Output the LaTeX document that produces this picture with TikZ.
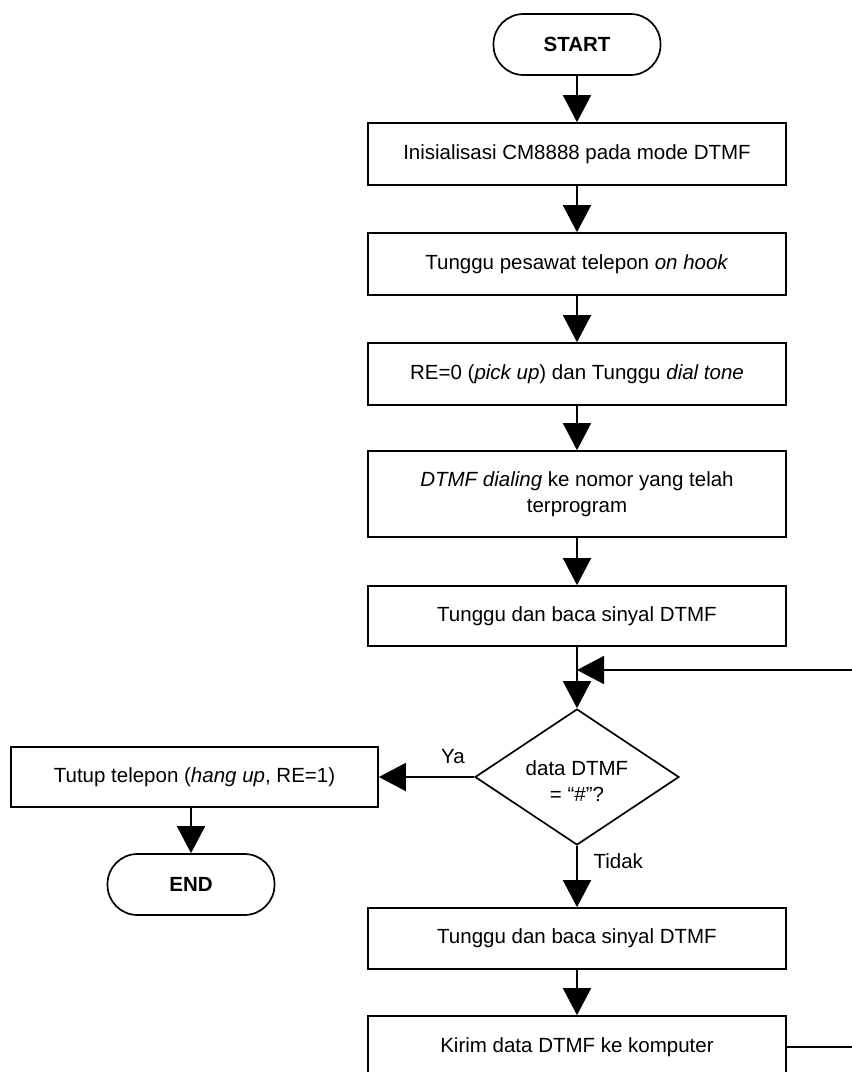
\documentclass[tikz,border=0pt]{standalone}
\usepackage{fontspec}
\setmainfont{Liberation Sans}
\usetikzlibrary{positioning, arrows.meta, shapes.geometric}

\begin{document}
\begin{tikzpicture}[x=1pt, y=-1pt,
    garis/.style={line width=1.7pt},
    panah/.style={garis, -{Triangle[length=27pt, width=28pt]}},
    teks/.style={font=\fontsize{20.5}{25.5}\selectfont},
    kotak/.style={draw, garis, teks, rectangle, align=center, inner sep=0pt,
                  minimum width=418pt, minimum height=62pt},
    terminal/.style={draw, garis, rectangle, rounded corners=30pt,
                     minimum width=167pt, minimum height=61pt,
                     font=\fontsize{20.5}{25.5}\selectfont\bfseries},
    keputusan/.style={draw, garis, teks, diamond, aspect=1.5, align=center,
                      inner sep=0pt, minimum width=204pt, minimum height=136pt}]
  \useasboundingbox (0,0) rectangle (852,1072);

  % alur utama
  \node[terminal] (start) at (577,44.5) {START};
  \node[kotak] (init) at (577,154) {Inisialisasi CM8888 pada mode DTMF};
  \node[kotak] (onhook) at (577,264) {Tunggu pesawat telepon \textit{on hook}};
  \node[kotak] (pickup) at (577,374)
       {RE=0 (\textit{pick up}) dan Tunggu \textit{dial tone}};
  \node[kotak, minimum height=86pt] (dial) at (577,494)
       {\textit{DTMF dialing} ke nomor yang telah\\terprogram};
  \node[kotak, minimum height=60pt] (baca1) at (577,616)
       {Tunggu dan baca sinyal DTMF};
  \node[keputusan] (cek) at (577,777) {};
  \node[teks, align=center] (tanya) at (577,781) {data DTMF\\= “\#”?};

  % cabang Ya
  \node[kotak, minimum width=367pt, minimum height=60pt] (tutup) at (194.5,777)
       {Tutup telepon (\textit{hang up}, RE=1)};
  \node[terminal] (akhir) at (191,884.5) {END};

  % cabang Tidak
  \node[kotak, minimum height=61pt] (baca2) at (577,938.5)
       {Tunggu dan baca sinyal DTMF};
  \node[kotak] (kirim) at (577,1047) {Kirim data DTMF ke komputer};

  \node[teks] (ya) at (453,757) {Ya};
  \node[teks, anchor=west] (tidak) at (590,861) {Tidak};

  \coordinate (temu) at (577,670);
  \coordinate (balik) at (852,670);
  \coordinate (keluar) at (852,1047);

  \draw[panah] (start) -- (init);
  \draw[panah] (init) -- (onhook);
  \draw[panah] (onhook) -- (pickup);
  \draw[panah] (pickup) -- (dial);
  \draw[panah] (dial) -- (baca1);
  \draw[panah] (baca1) -- (cek);
  \draw[panah] (balik) -- (temu);
  \draw[panah] (cek.west) -- (tutup.east);
  \draw[panah] (tutup.south -| akhir) -- (akhir);
  \draw[panah] (cek.south) -- (baca2);
  \draw[panah] (baca2) -- (kirim);
  \draw[garis] (kirim.east) -- (keluar);
\end{tikzpicture}
\end{document}
